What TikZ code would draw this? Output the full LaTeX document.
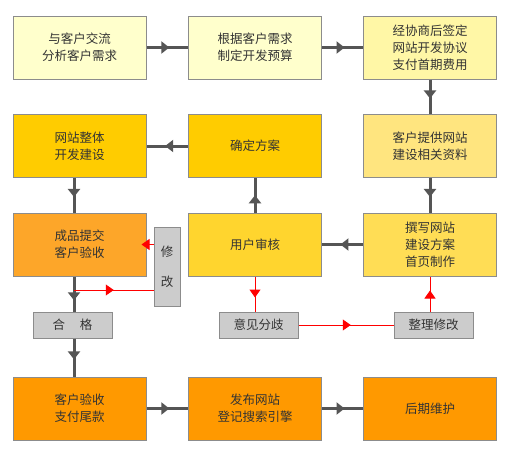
\documentclass[tikz,border=0pt]{standalone}
\usepackage{fontspec}
\setmainfont{Noto Sans CJK SC}
\usetikzlibrary{arrows.meta,decorations.markings}
\definecolor{bdr}{HTML}{8C8C8C}
\definecolor{txt}{HTML}{333333}
\definecolor{lnk}{HTML}{555555}
\definecolor{cA}{HTML}{FFFFCC}
\definecolor{cB}{HTML}{FFF7A6}
\definecolor{cC}{HTML}{FFCC00}
\definecolor{cD}{HTML}{FFE57F}
\definecolor{cE}{HTML}{FDA629}
\definecolor{cF}{HTML}{FFD52E}
\definecolor{cG}{HTML}{FFDD55}
\definecolor{cH}{HTML}{FF9900}
\definecolor{cI}{HTML}{CCCCCC}
\begin{document}
\begin{tikzpicture}[x=1pt,y=-1pt,
  stepbox/.style={draw=bdr,line width=1pt,minimum width=133pt,minimum height=63pt,
    inner sep=0pt,align=center,text=txt,font=\fontsize{12.5}{17}\selectfont},
  graybox/.style={draw=bdr,line width=1pt,fill=cI,inner sep=0pt,align=center,
    text=txt,font=\fontsize{12.5}{17}\selectfont},
  link/.style={draw=lnk,line width=3pt,postaction={decorate,decoration={markings,
    mark=at position #1 with {\arrow{Triangle[length=8pt,width=12pt]}}}}},
  link/.default=0.55,
  rlink/.style={draw=red,line width=1pt,postaction={decorate,decoration={markings,
    mark=at position #1 with {\arrow{Triangle[length=8pt,width=11pt]}}}}},
  rlink/.default=0.55]
\useasboundingbox (0,0) rectangle (509,450);
% row 1
\node[stepbox,fill=cA] (a1) at (79.5,47.5) {与客户交流\\分析客户需求};
\node[stepbox,fill=cA] (a2) at (255,47.5) {根据客户需求\\制定开发预算};
\node[stepbox,fill=cB] (a3) at (430,47.5) {经协商后签定\\网站开发协议\\支付首期费用};
% row 2
\node[stepbox,fill=cC] (b1) at (79.5,146) {网站整体\\开发建设};
\node[stepbox,fill=cC] (b2) at (255,146) {确定方案};
\node[stepbox,fill=cD] (b3) at (430,146) {客户提供网站\\建设相关资料};
% row 3
\node[stepbox,fill=cE] (c1) at (79.5,244.5) {成品提交\\客户验收};
\node[stepbox,fill=cF] (c2) at (255,244.5) {用户审核};
\node[stepbox,fill=cG] (c3) at (430,244.5) {撰写网站\\建设方案\\首页制作};
% row 4
\node[stepbox,fill=cH] (d1) at (79.5,408.5) {客户验收\\支付尾款};
\node[stepbox,fill=cH] (d2) at (255,408.5) {发布网站\\登记搜索引擎};
\node[stepbox,fill=cH] (d3) at (430,408.5) {后期维护};
% gray boxes
\node[graybox,minimum width=26pt,minimum height=79pt,
  font=\fontsize{12.5}{30}\selectfont] (xg) at (167,266.5) {修\\改};
\node[graybox,minimum width=79pt,minimum height=26pt] (hg) at (72.5,325) {合\hspace{1.2em}格};
\node[graybox,minimum width=79pt,minimum height=26pt] (yj) at (258.5,325) {意见分歧};
\node[graybox,minimum width=79pt,minimum height=26pt] (zl) at (433.5,325) {整理修改};
% dark connectors
\draw[link] (a1.east) -- (a2.west);
\draw[link] (a2.east) -- (a3.west);
\draw[link] (a3.south) -- (b3.north);
\draw[link] (b2.west) -- (b1.east);
\draw[link] (b1.south -| hg.north) ++(1.5,0) coordinate (b1s) -- (b1s |- c1.north);
\draw[link=0.5] (c2.north) -- (b2.south);
\draw[link] (b3.south) -- (c3.north);
\draw[link] (c3.west) -- (c2.east);
\coordinate (c1s) at ([xshift=1.5pt]c1.south -| hg.north);
\draw[link=0.68] (c1s) -- (c1s |- hg.north);
\coordinate (hgs) at ([xshift=1.5pt]hg.south);
\draw[link] (hgs) -- (hgs |- d1.north);
\draw[link] (d1.east) -- (d2.west);
\draw[link] (d2.east) -- (d3.west);
% red connectors
\coordinate (fork) at (74,290);
\draw[rlink=0.5] (fork) -- (fork -| xg.west);
\draw[red,line width=1pt,-{Triangle[length=8pt,width=11pt]}] (xg.west |- c1.east) -- ([xshift=-5pt]c1.east);
\draw[rlink=0.6] (c2.south) -- (c2.south |- yj.north);
\draw[rlink=0.55] (yj.east) -- (zl.west);
\draw[rlink=0.6] (zl.north -| c3.south) -- (c3.south);
\end{tikzpicture}
\end{document}
